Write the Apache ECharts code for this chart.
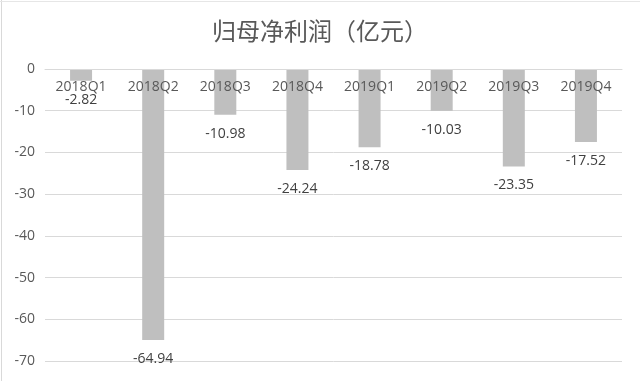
<!DOCTYPE html>
<html><head><meta charset="utf-8">
<script src="https://cdn.jsdelivr.net/npm/echarts@6/dist/echarts.min.js"></script>
<style>html,body{margin:0;padding:0;background:#fff}#c{width:640px;height:381px}</style>
</head><body><div id="c"></div>
<script>
const categories = ['2018Q1','2018Q2','2018Q3','2018Q4','2019Q1','2019Q2','2019Q3','2019Q4'];
const profit = [-2.82, -64.94, -10.98, -24.24, -18.78, -10.03, -23.35, -17.52];
const titleText = '归母净利润（亿元）';

const chart = echarts.init(document.getElementById('c'));
chart.setOption({
  backgroundColor: '#fff',
  animation: false,
  title: {
    text: titleText, left: 'center', top: 14,
    textStyle: {fontFamily: 'Noto Sans CJK SC', fontSize: 24, fontWeight: 'normal', color: '#595959'}
  },
  graphic: [
    {type: 'line', shape: {x1: 1.5, y1: 0, x2: 1.5, y2: 381}, style: {stroke: '#d9d9d9', lineWidth: 1}},
    {type: 'line', shape: {x1: 0, y1: 1.5, x2: 640, y2: 1.5}, style: {stroke: '#e6e6e6', lineWidth: 1}}
  ],
  grid: {left: 45, right: 18, top: 69, bottom: 20, containLabel: false},
  xAxis: {
    type: 'category', data: categories, position: 'top',
    axisLine: {show: true, onZero: false, lineStyle: {color: '#d9d9d9', width: 1}}, axisTick: {show: false},
    axisLabel: {inside: true, color: '#595959', fontSize: 14, fontFamily: 'Open Sans', margin: 11},
    z: 5
  },
  yAxis: {
    type: 'value', min: -70, max: 0, interval: 10,
    axisLine: {show: false}, axisTick: {show: false},
    axisLabel: {color: '#595959', fontSize: 14, fontFamily: 'Open Sans', margin: 10},
    splitLine: {lineStyle: {color: '#d9d9d9', width: 1}}
  },
  series: [{
    type: 'bar', data: profit, barWidth: 22, z: 1,
    itemStyle: {color: '#bfbfbf'},
    label: {show: true, position: 'bottom', distance: 12, color: '#404040', fontSize: 14, fontFamily: 'Open Sans'}
  }]
});
</script></body></html>
